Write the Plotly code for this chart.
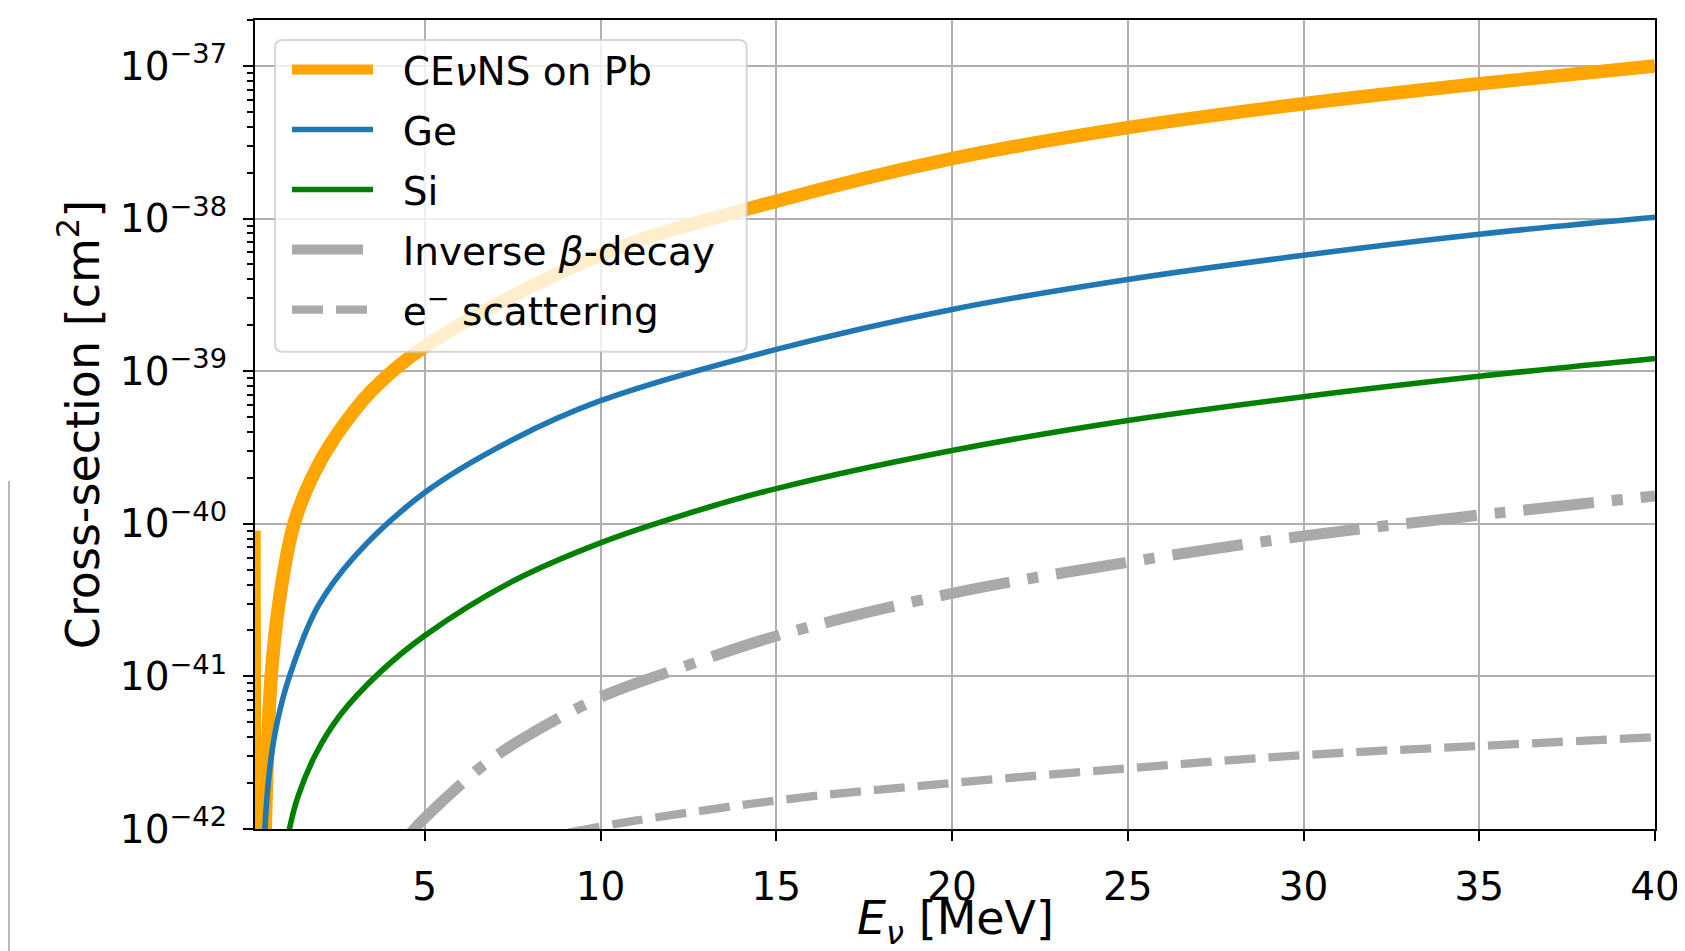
import plotly.graph_objects as go

# ---- data ----
E_pb = [0.14, 0.24, 0.46, 0.63, 0.9, 1.28, 1.81, 2.45, 3.5, 5.0, 10.0, 15.0, 20.0, 25.0, 30.0, 35.0, 40.0]
sigma_pb = [9e-41, 1e-45, 1e-42, 1e-41, 3.6e-41, 1e-40, 2.05e-40, 3.7e-40, 7.5e-40, 1.45e-39, 5.8e-39,
            1.3e-38, 2.47e-38, 3.94e-38, 5.65e-38, 7.64e-38, 1.0e-37]

E_ge = [0.40, 0.45, 0.6, 0.8, 1.15, 1.95, 3.0, 5.0, 7.5, 10.0, 15.0, 20.0, 25.0, 30.0, 35.0, 40.0]
sigma_ge = [4e-43, 1e-42, 2.6e-42, 5e-42, 1e-41, 2.85e-41, 6.1e-41, 1.6e-40, 3.55e-40, 6.4e-40,
            1.39e-39, 2.54e-39, 3.99e-39, 5.75e-39, 7.9e-39, 1.02e-38]

E_si = [1.05, 1.15, 1.4, 1.9, 2.6, 3.7, 5.0, 7.5, 10.0, 12.5, 15.0, 20.0, 25.0, 30.0, 35.0, 40.0]
sigma_si = [7e-43, 1e-42, 1.65e-42, 3.1e-42, 5.6e-42, 1.05e-41, 1.85e-41, 4.2e-41, 7.5e-41, 1.17e-40,
            1.7e-40, 3.02e-40, 4.75e-40, 6.8e-40, 9.25e-40, 1.21e-39]

E_ibd = [4.6, 5.0, 6.67, 7.9, 10.0, 12.0, 15.0, 20.0, 25.0, 30.0, 35.0, 40.0]
sigma_ibd = [9.4e-43, 1.18e-42, 2.62e-42, 4.05e-42, 7.3e-42, 1.08e-41, 1.84e-41, 3.5e-41, 5.6e-41, 8.3e-41,
             1.14e-40, 1.52e-40]

E_es = [9.1, 10.94, 15.63, 20.0, 25.0, 30.0, 35.0, 40.0]
sigma_es = [9.48e-43, 1.13e-42, 1.6e-42, 2.0e-42, 2.5e-42, 3.05e-42, 3.5e-42, 4.0e-42]

x_ticks = [5, 10, 15, 20, 25, 30, 35, 40]
y_decades = [-42, -41, -40, -39, -38, -37]

FONT = "DejaVu Sans"
# the page body has an 8px margin: size the figure so the plot lands where the reference has it
OFF = 8
W, H = 1685 - OFF, 951 - OFF
PL, PT, PR, PB = 255, 20, 1655, 829      # plot area in page pixels
ML, MT = PL - OFF, PT - OFF
MR, MB = 1685 - PR, 951 - PB
PW, PH = PR - PL, PB - PT


def px2paper_x(px):
    return (px - PL) / PW


def px2paper_y(py):
    return 1 - (py - PT) / PH


fig = go.Figure()

series = [
    ("CE<i>ν</i>NS on Pb", E_pb, sigma_pb, "#ffa500", 13.5, "solid"),
    ("Ge", E_ge, sigma_ge, "#1f77b4", 5.6, "solid"),
    ("Si", E_si, sigma_si, "#008000", 5.6, "solid"),
    ("Inverse <i>β</i>-decay", E_ibd, sigma_ibd, "#a9a9a9", 11.1, "71px,18px,11px,18px"),
    ("e<sup>−</sup> scattering", E_es, sigma_es, "#a9a9a9", 8.3, "31px,13px"),
]
for i, (name, xs, ys, col, lw, dash) in enumerate(series):
    fig.add_trace(go.Scatter(
        x=xs, y=ys, mode="lines", name="\u00a0\u00a0" + name, legendgroup=f"g{i}",
        line=dict(color=col, width=lw, dash=dash, shape="spline", smoothing=1.0),
    ))

minor_vals = []
for d in range(-42, -37):
    for m in range(2, 10):
        v = m * 10.0 ** d
        if v <= 2e-37:
            minor_vals.append(v)
minor_vals.append(2e-37)

fig.update_xaxes(
    range=[0.17, 40], tickvals=x_ticks, ticktext=[str(v) for v in x_ticks],
    ticks="outside", ticklen=10, tickwidth=2.2, tickcolor="black", ticklabelstandoff=12,
    showline=True, linecolor="black", linewidth=2.2, mirror=True, automargin=False,
    showgrid=True, gridcolor="#b0b0b0", gridwidth=2.2, zeroline=False,
    tickfont=dict(family=FONT, size=39, color="black"),
)
fig.update_yaxes(
    type="log", range=[-42, -36.699],
    tickvals=[10.0 ** d for d in y_decades],
    ticktext=[f"10<sup>−{abs(d)}</sup>" for d in y_decades],
    ticks="outside", ticklen=10, tickwidth=2.2, tickcolor="black", ticklabelstandoff=8,
    minor=dict(tickvals=minor_vals, ticks="outside", ticklen=5.6, tickwidth=1.7, tickcolor="black", showgrid=False),
    showline=True, linecolor="black", linewidth=2.2, mirror=True, automargin=False,
    showgrid=True, gridcolor="#b0b0b0", gridwidth=2.2, zeroline=False,
    tickfont=dict(family=FONT, size=39, color="black"),
    title=dict(text="Cross-section [cm<sup>2</sup>]", font=dict(family=FONT, size=46, color="black"), standoff=6),
)

# rounded legend frame
x0, x1 = px2paper_x(275), px2paper_x(746.7)
y0, y1 = px2paper_y(351.7), px2paper_y(40)
rx, ry = 8 / PW, 8 / PH
path = (f"M{x0+rx},{y0} L{x1-rx},{y0} Q{x1},{y0} {x1},{y0+ry} L{x1},{y1-ry} Q{x1},{y1} {x1-rx},{y1} "
        f"L{x0+rx},{y1} Q{x0},{y1} {x0},{y1-ry} L{x0},{y0+ry} Q{x0},{y0} {x0+rx},{y0} Z")
shapes = [
    dict(type="path", xref="paper", yref="paper", path=path, layer="above",
         fillcolor="rgba(255,255,255,0.8)", line=dict(color="rgba(204,204,204,0.8)", width=2)),
    dict(type="line", xref="paper", yref="paper", x0=px2paper_x(OFF + 1), x1=px2paper_x(OFF + 1),
         y0=px2paper_y(481), y1=px2paper_y(951), line=dict(color="#a0a0a0", width=1.5)),
]

annotations = [
    dict(text="<i>E</i><sub><i>ν</i></sub> [MeV]", xref="paper", yref="paper",
         x=0.5, y=px2paper_y(921), xanchor="center", yanchor="middle", showarrow=False,
         font=dict(family=FONT, size=46, color="black")),
]

fig.update_layout(
    width=W, height=H, margin=dict(l=ML, r=MR, t=MT, b=MB, autoexpand=False),
    paper_bgcolor="white", plot_bgcolor="white",
    font=dict(family=FONT, size=39, color="black"),
    shapes=shapes, annotations=annotations,
    legend=dict(x=px2paper_x(287), y=px2paper_y(37.7), xanchor="left", yanchor="top",
                bgcolor="rgba(0,0,0,0)", borderwidth=0, itemwidth=81, tracegroupgap=6.3,
                font=dict(family=FONT, size=39, color="black")),
)

fig.write_html("out.html")
